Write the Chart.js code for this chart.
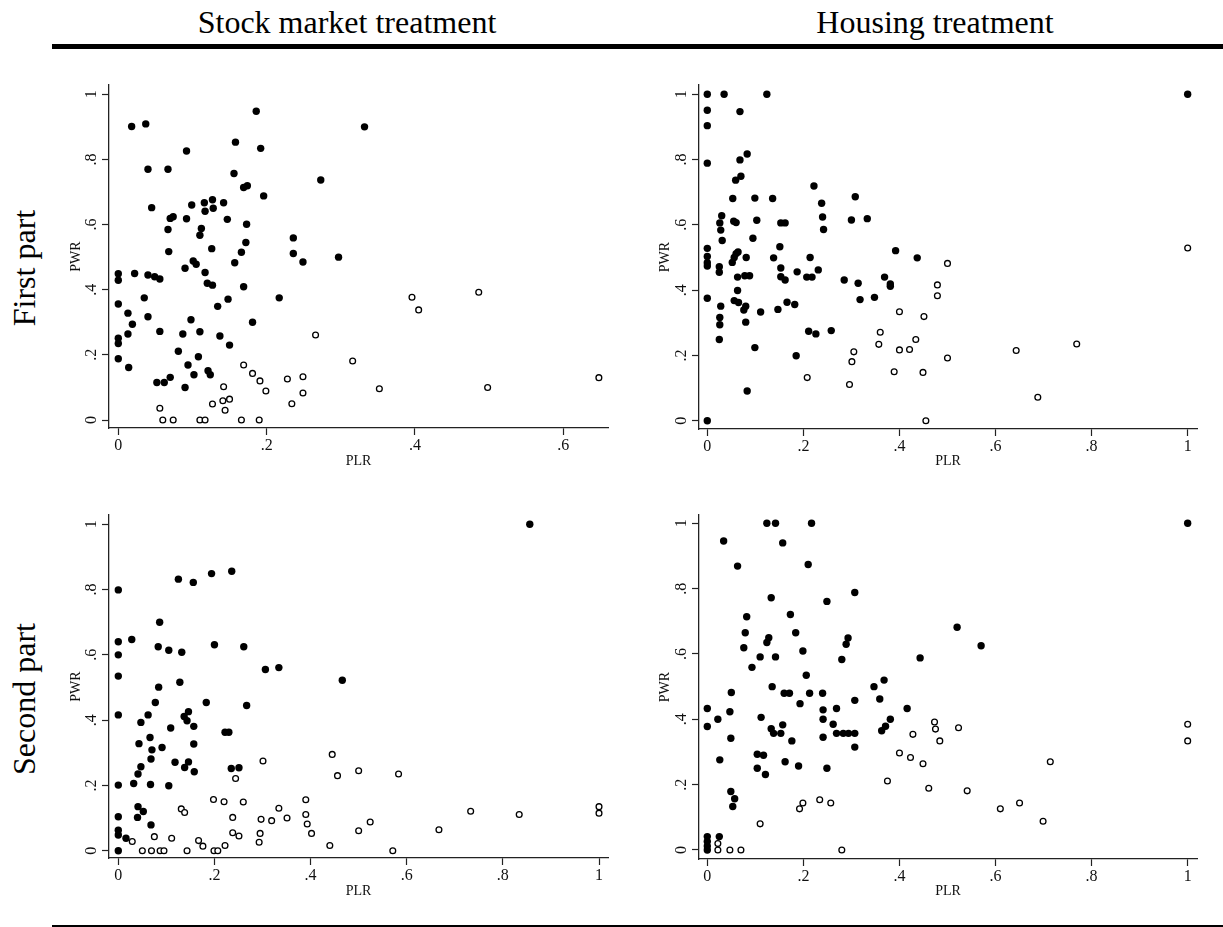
<!DOCTYPE html>
<html><head><meta charset="utf-8">
<script src="https://cdn.jsdelivr.net/npm/chart.js@4.4.1/dist/chart.umd.min.js"></script>
<style>
html,body{margin:0;padding:0;background:#fff;}
body{width:1223px;height:927px;position:relative;overflow:hidden;font-family:'Liberation Serif','Times New Roman',serif;color:#000;}
.hdr{position:absolute;top:4px;font-size:32px;line-height:36px;white-space:nowrap;transform:translateX(-50%);}
.row{position:absolute;font-size:32px;line-height:36px;white-space:nowrap;transform:translate(-50%,-50%) rotate(-90deg);}
.rule{position:absolute;background:#000;}
canvas{position:absolute;}
</style></head><body>
<div class="hdr" style="left:347px">Stock market treatment</div>
<div class="hdr" style="left:935px">Housing treatment</div>
<div class="rule" style="left:52px;top:44px;width:1171px;height:5px"></div>
<div class="rule" style="left:52px;top:925px;width:1171px;height:2px"></div>
<div class="row" style="left:24px;top:268px">First part</div>
<div class="row" style="left:24px;top:699px">Second part</div>
<canvas id="tl" width="570" height="410" style="left:50px;top:75px"></canvas>
<canvas id="tr" width="570" height="410" style="left:640px;top:75px"></canvas>
<canvas id="bl" width="570" height="410" style="left:50px;top:505px"></canvas>
<canvas id="br" width="570" height="410" style="left:640px;top:505px"></canvas>
<script>
// ---- data ----
const xTitle = 'PLR';
const yTitle = 'PWR';
const yTickVals = [0, .2, .4, .6, .8, 1];
const yTickLabels = ['0', '.2', '.4', '.6', '.8', '1'];
const xTickValsStockFirst = [0, .2, .4, .6];
const xTickLabelsStockFirst = ['0', '.2', '.4', '.6'];
const xTickVals = [0, .2, .4, .6, .8, 1];
const xTickLabels = ['0', '.2', '.4', '.6', '.8', '1'];

// [PLR, PWR]
const stockFirstFilled = [[0.018,0.901],[0.037,0.909],[0.186,0.948],[0.092,0.826],[0.158,0.853],[0.192,0.834],[0.040,0.770],[0.067,0.770],[0.156,0.757],[0.273,0.737],[0.169,0.714],[0.174,0.719],[0.196,0.688],[0.045,0.652],[0.099,0.660],[0.116,0.667],[0.127,0.676],[0.142,0.667],[0.117,0.641],[0.128,0.650],[0.070,0.619],[0.074,0.624],[0.092,0.618],[0.147,0.616],[0.173,0.601],[0.067,0.585],[0.112,0.588],[0.110,0.567],[0.236,0.559],[0.172,0.545],[0.126,0.526],[0.068,0.517],[0.166,0.515],[0.236,0.511],[0.297,0.500],[0.249,0.485],[0.157,0.483],[0.101,0.488],[0.105,0.478],[0.090,0.466],[0.117,0.453],[0,0.449],[0.022,0.450],[0,0.429],[0.040,0.445],[0.049,0.440],[0.056,0.433],[0.120,0.420],[0.127,0.414],[0.169,0.409],[0.035,0.375],[0.217,0.375],[0.148,0.371],[0,0.356],[0.134,0.349],[0.013,0.328],[0.040,0.317],[0.098,0.308],[0.019,0.294],[0.181,0.300],[0.056,0.272],[0.110,0.271],[0.013,0.264],[0.087,0.264],[0.137,0.258],[0,0.251],[0,0.235],[0.150,0.230],[0.081,0.211],[0.108,0.194],[0,0.188],[0.094,0.169],[0.014,0.161],[0.121,0.151],[0.124,0.139],[0.102,0.139],[0.070,0.131],[0.052,0.115],[0.062,0.115],[0.090,0.100],[0.332,0.900]];
const stockFirstHollow = [[0.266,0.261],[0.169,0.169],[0.181,0.143],[0.191,0.120],[0.199,0.089],[0.228,0.126],[0.249,0.133],[0.249,0.083],[0.234,0.050],[0.142,0.102],[0.141,0.059],[0.150,0.064],[0.144,0.030],[0.127,0.049],[0.056,0.036],[0.060,0],[0.074,0],[0.110,0],[0.117,0],[0.166,0],[0.190,0],[0.316,0.181],[0.396,0.377],[0.405,0.338],[0.486,0.392],[0.352,0.096],[0.498,0.100],[0.648,0.130]];

const housingFirstFilled = [[0,1.0],[0.035,1.0],[0.124,1.0],[0,0.951],[0.068,0.947],[0,0.904],[0,0.789],[0.083,0.817],[0.068,0.799],[0.070,0.749],[0.059,0.737],[0.222,0.719],[0.053,0.681],[0.099,0.682],[0.136,0.681],[0.308,0.686],[0.238,0.666],[0.030,0.628],[0.240,0.624],[0.333,0.619],[0.300,0.615],[0.103,0.614],[0.055,0.611],[0.060,0.607],[0.026,0.606],[0.153,0.606],[0.162,0.606],[0.028,0.584],[0.242,0.586],[0.095,0.559],[0.031,0.552],[0.151,0.533],[0,0.528],[0.392,0.521],[0.064,0.517],[0.060,0.512],[0,0.503],[0.056,0.500],[0.081,0.500],[0.138,0.499],[0.214,0.500],[0,0.484],[0.052,0.485],[0,0.474],[0.025,0.472],[0.153,0.468],[0.231,0.462],[0.025,0.455],[0.187,0.456],[0.078,0.444],[0.088,0.444],[0.063,0.440],[0.153,0.441],[0.207,0.440],[0.218,0.440],[0.162,0.431],[0.285,0.431],[0.369,0.440],[0.381,0.419],[0.381,0.412],[0.314,0.421],[0.063,0.399],[0.348,0.378],[0,0.375],[0.318,0.371],[0.065,0.362],[0.056,0.368],[0.166,0.363],[0.182,0.356],[0.028,0.351],[0.080,0.351],[0.076,0.339],[0.147,0.341],[0.111,0.333],[0.026,0.316],[0.026,0.294],[0.080,0.302],[0.211,0.274],[0.226,0.266],[0.258,0.276],[0.025,0.249],[0.099,0.224],[0.185,0.199],[0.083,0.091],[0,0],[0.437,0.499],[1,1]];
const housingFirstHollow = [[0.208,0.132],[0.296,0.111],[0.301,0.181],[0.305,0.211],[0.357,0.234],[0.360,0.271],[0.389,0.150],[0.400,0.334],[0.400,0.217],[0.421,0.218],[0.434,0.249],[0.451,0.319],[0.479,0.416],[0.479,0.383],[0.500,0.482],[0.500,0.192],[0.449,0.148],[0.455,0],[0.643,0.215],[0.769,0.235],[0.688,0.072],[1,0.529]];

const stockSecondFilled = [[0,0.799],[0,0.640],[0.028,0.647],[0,0.600],[0,0.535],[0,0.416],[0,0.201],[0,0.104],[0,0.063],[0,0.048],[0,0],[0.016,0.038],[0.125,0.832],[0.156,0.822],[0.194,0.849],[0.236,0.856],[0.086,0.700],[0.083,0.625],[0.105,0.614],[0.132,0.608],[0.200,0.631],[0.261,0.625],[0.306,0.555],[0.334,0.561],[0.466,0.522],[0.084,0.501],[0.128,0.516],[0.077,0.454],[0.183,0.454],[0.267,0.445],[0.062,0.416],[0.047,0.393],[0.146,0.426],[0.137,0.411],[0.143,0.398],[0.157,0.381],[0.109,0.376],[0.222,0.363],[0.230,0.363],[0.066,0.347],[0.043,0.328],[0.157,0.327],[0.091,0.316],[0.070,0.309],[0.068,0.281],[0.118,0.271],[0.146,0.272],[0.138,0.255],[0.047,0.257],[0.235,0.252],[0.251,0.254],[0.158,0.242],[0.041,0.235],[0.032,0.206],[0.067,0.203],[0.105,0.199],[0.041,0.135],[0.052,0.120],[0.040,0.102],[0.068,0.079],[0.856,1.0]];
const stockSecondHollow = [[0.301,0.275],[0.445,0.295],[0.456,0.230],[0.244,0.221],[0.198,0.157],[0.220,0.150],[0.260,0.149],[0.390,0.156],[0.334,0.130],[0.131,0.128],[0.138,0.117],[0.238,0.102],[0.297,0.096],[0.319,0.092],[0.351,0.100],[0.390,0.111],[0.393,0.082],[0.402,0.053],[0.295,0.053],[0.293,0.026],[0.440,0.016],[0.238,0.055],[0.251,0.045],[0.029,0.028],[0.075,0.043],[0.111,0.038],[0.167,0.031],[0.176,0.014],[0.222,0.016],[0.050,0],[0.069,0],[0.087,0],[0.095,0],[0.143,0],[0.199,0],[0.207,0],[0.500,0.245],[0.583,0.235],[0.500,0.061],[0.524,0.088],[0.571,0],[0.667,0.064],[0.733,0.121],[0.834,0.111],[1,0.135],[1,0.115]];

const housingSecondFilled = [[0.124,1],[0.142,1],[0.217,1],[0.034,0.946],[0.157,0.940],[0.063,0.869],[0.210,0.874],[0.133,0.772],[0.249,0.761],[0.307,0.788],[0.173,0.721],[0.082,0.714],[0.079,0.665],[0.184,0.665],[0.128,0.650],[0.293,0.649],[0.124,0.635],[0.289,0.630],[0.076,0.619],[0.110,0.591],[0.142,0.591],[0.199,0.609],[0.280,0.583],[0.093,0.559],[0.206,0.535],[0.135,0.500],[0.347,0.500],[0.368,0.520],[0.050,0.482],[0.160,0.480],[0.171,0.480],[0.213,0.480],[0.240,0.480],[0.359,0.462],[0.307,0.458],[0.193,0.448],[0,0.433],[0.269,0.433],[0.241,0.429],[0.047,0.423],[0.112,0.406],[0.022,0.400],[0.241,0.400],[0.381,0.400],[0,0.378],[0.133,0.371],[0.157,0.383],[0.262,0.385],[0.371,0.379],[0.363,0.365],[0.138,0.357],[0.153,0.357],[0.269,0.357],[0.283,0.357],[0.294,0.357],[0.307,0.357],[0.049,0.342],[0.241,0.345],[0.176,0.334],[0.307,0.315],[0.104,0.293],[0.117,0.290],[0.026,0.276],[0.162,0.270],[0.190,0.257],[0.104,0.250],[0.249,0.250],[0.121,0.231],[0.049,0.179],[0.057,0.157],[0.053,0.133],[0,0.041],[0,0.026],[0,0.012],[0,0],[0.025,0.041],[0.443,0.588],[0.520,0.682],[0.570,0.625],[0.416,0.433],[1,1]];
const housingSecondHollow = [[0.110,0.080],[0.192,0.126],[0.199,0.144],[0.234,0.154],[0.257,0.144],[0.375,0.211],[0.280,0],[0.022,0.020],[0.022,0],[0.047,0],[0.070,0],[0.400,0.297],[0.423,0.283],[0.449,0.264],[0.428,0.354],[0.473,0.392],[0.475,0.370],[0.484,0.334],[0.523,0.374],[0.461,0.189],[0.541,0.181],[0.610,0.126],[0.650,0.144],[0.699,0.088],[0.714,0.270],[1,0.385],[1,0.334]];

// ---- drawing ----
Chart.defaults.font.family = "'Liberation Serif','Times New Roman',serif";
const ink = '#111';
const axisCol = '#222';

function panel(id, filled, hollow, xVals, xLabels, box) {
  const pts = a => a.map(p => ({x: p[0], y: p[1]}));
  new Chart(document.getElementById(id), {
    type: 'scatter',
    data: { datasets: [
      { data: pts(hollow), pointStyle: 'circle', pointRadius: 2.9, pointBorderWidth: 1.3,
        pointBackgroundColor: '#fff', pointBorderColor: '#000', showLine: false },
      { data: pts(filled), pointStyle: 'circle', pointRadius: 3.7, pointBorderWidth: 0,
        pointBackgroundColor: '#000', pointBorderColor: '#000', showLine: false }
    ]},
    options: {
      responsive: false, animation: false, events: [], devicePixelRatio: 1,
      layout: { padding: { top: box.padTop, right: box.padRight, left: 0, bottom: 0 } },
      plugins: { legend: { display: false }, tooltip: { enabled: false } },
      scales: {
        x: {
          type: 'linear', position: 'bottom', bounds: 'data', min: box.xmin, max: box.xmax,
          afterBuildTicks: s => { s.ticks = xVals.map(v => ({ value: v })); },
          afterFit: s => { s.height = box.xh; s.paddingLeft = 0; s.paddingRight = 0; s.paddingTop = 0; s.paddingBottom = 0; },
          ticks: { autoSkip: false, minRotation: 0, maxRotation: 0, padding: 1.6, color: ink,
                   font: { size: 16 }, callback: (v, i) => xLabels[i] },
          grid: { drawOnChartArea: false, drawTicks: true, tickLength: 7, tickColor: axisCol, tickWidth: 1.2 },
          border: { display: true, color: axisCol, width: 1.3 },
          title: { display: true, text: xTitle, color: ink, font: { size: 14 }, padding: { top: 0, bottom: 15 } }
        },
        y: {
          type: 'linear', position: 'left', bounds: 'data', min: box.ymin, max: box.ymax,
          afterBuildTicks: s => { s.ticks = yTickVals.map(v => ({ value: v })); },
          afterFit: s => { s.width = 59; s.paddingLeft = 0; s.paddingRight = 0; s.paddingTop = 0; s.paddingBottom = 0; },
          ticks: { autoSkip: false, minRotation: 90, maxRotation: 90, crossAlign: 'center', padding: 4.7,
                   color: ink, font: { size: 16 }, callback: (v, i) => yTickLabels[i] },
          grid: { drawOnChartArea: false, drawTicks: true, tickLength: 7, tickColor: axisCol, tickWidth: 1.2 },
          border: { display: true, color: axisCol, width: 1.3 },
          title: { display: true, text: yTitle, color: ink, font: { size: 14 }, padding: { top: box.yTitlePad, bottom: 0 } }
        }
      }
    }
  });
}

panel('tl', stockFirstFilled, stockFirstHollow, xTickValsStockFirst, xTickLabelsStockFirst,
  { padTop: 10, padRight: 12, xh: 57, xmin: -0.01254, xmax: 0.6603, ymin: -0.02456, ymax: 1.0285, yTitlePad: 18.3 });
panel('tr', housingFirstFilled, housingFirstHollow, xTickVals, xTickLabels,
  { padTop: 10, padRight: 13, xh: 56, xmin: -0.01728, xmax: 1.0194, ymin: -0.0254, ymax: 1.0285, yTitlePad: 17.1 });
panel('bl', stockSecondFilled, stockSecondHollow, xTickVals, xTickLabels,
  { padTop: 10, padRight: 12, xh: 57, xmin: -0.01935, xmax: 1.0187, ymin: -0.02237, ymax: 1.0285, yTitlePad: 18.3 });
panel('br', housingSecondFilled, housingSecondHollow, xTickVals, xTickLabels,
  { padTop: 10, padRight: 13, xh: 56, xmin: -0.01728, xmax: 1.0194, ymin: -0.02755, ymax: 1.0254, yTitlePad: 17.1 });
</script>
</body></html>
